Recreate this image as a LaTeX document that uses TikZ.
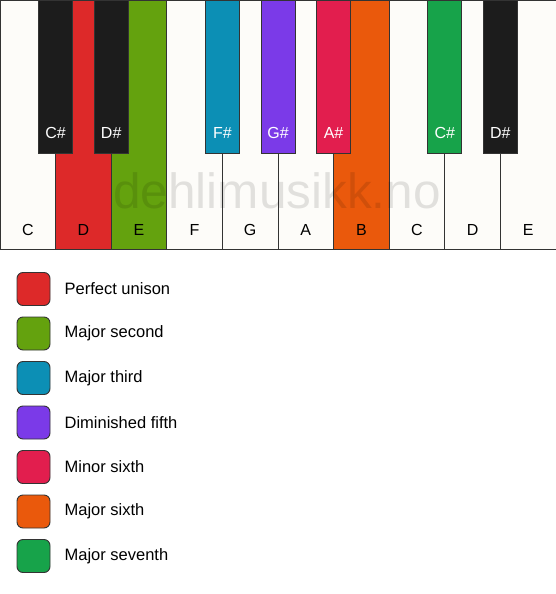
\documentclass[tikz,border=0pt]{standalone}
\usepackage{fontspec}
\setmainfont{Liberation Sans}
\usetikzlibrary{positioning}
\definecolor{ivory}{RGB}{253,252,249}
\definecolor{keyblack}{RGB}{28,28,28}
\definecolor{keyline}{RGB}{51,51,51}
\definecolor{unison}{RGB}{221,41,41}
\definecolor{second}{RGB}{100,162,14}
\definecolor{third}{RGB}{12,143,181}
\definecolor{fifth}{RGB}{123,58,232}
\definecolor{minsixth}{RGB}{226,30,78}
\definecolor{majsixth}{RGB}{234,89,12}
\definecolor{seventh}{RGB}{23,163,74}

\begin{document}
\begin{tikzpicture}[x=1pt, y=1pt,
  whitekey/.style={rectangle, draw=keyline, fill=ivory, line width=0.9pt, inner sep=0pt, minimum width=55.6pt, minimum height=249pt},
  blackkey/.style={rectangle, draw=keyline, fill=keyblack, line width=0.9pt, inner sep=0pt, minimum width=34pt, minimum height=153pt},
  whitelabel/.style={anchor=center, yshift=19pt, font=\fontsize{16}{19}\selectfont, text=black},
  blacklabel/.style={anchor=center, yshift=20pt, font=\fontsize{16}{19}\selectfont, text=white},
  swatch/.style={rectangle, draw=keyline, line width=0.9pt, rounded corners=6pt, minimum size=33pt, inner sep=0pt},
  legtext/.style={font=\fontsize{16.5}{19}\selectfont, inner sep=0pt},
  node distance=14pt
]
\useasboundingbox (0,0) rectangle (556,-594);

% --- weisse Tasten ---
\node[whitekey, label={[whitelabel]south:C}] (C1) at (27.8,-124.5) {};
\node[whitekey, fill=unison, label={[whitelabel]south:D}] (D1) at (83.4,-124.5) {};
\node[whitekey, fill=second, label={[whitelabel]south:E}] (E1) at (139,-124.5) {};
\node[whitekey, label={[whitelabel]south:F}] (F1) at (194.6,-124.5) {};
\node[whitekey, label={[whitelabel]south:G}] (G1) at (250.2,-124.5) {};
\node[whitekey, label={[whitelabel]south:A}] (A1) at (305.8,-124.5) {};
\node[whitekey, fill=majsixth, label={[whitelabel]south:B}] (B1) at (361.4,-124.5) {};
\node[whitekey, label={[whitelabel]south:C}] (C2) at (417,-124.5) {};
\node[whitekey, label={[whitelabel]south:D}] (D2) at (472.6,-124.5) {};
\node[whitekey, label={[whitelabel]south:E}] (E2) at (528.2,-124.5) {};

% Wasserzeichen
\node[font=\fontsize{49.5}{52}\selectfont, text=black, text opacity=0.11] (mark) at (277,-191) {dehlimusikk.no};

% --- schwarze Tasten ---
\node[blackkey, label={[blacklabel]south:C\#}] (Cs1) at (55.6,-76.5) {};
\node[blackkey, label={[blacklabel]south:D\#}] (Ds1) at (111.2,-76.5) {};
\node[blackkey, fill=third, label={[blacklabel]south:F\#}] (Fs1) at (222.4,-76.5) {};
\node[blackkey, fill=fifth, label={[blacklabel]south:G\#}] (Gs1) at (278,-76.5) {};
\node[blackkey, fill=minsixth, label={[blacklabel]south:A\#}] (As1) at (333.6,-76.5) {};
\node[blackkey, fill=seventh, label={[blacklabel]south:C\#}] (Cs2) at (444.8,-76.5) {};
\node[blackkey, label={[blacklabel]south:D\#}] (Ds2) at (500.4,-76.5) {};

% --- Legende ---
\node[swatch, fill=unison] (sunison) at (33.5,-289) {};
\node[swatch, fill=second, below=10.6pt of sunison] (ssecond) {};
\node[swatch, fill=third, below=10.6pt of ssecond] (sthird) {};
\node[swatch, fill=fifth, below=10.6pt of sthird] (sfifth) {};
\node[swatch, fill=minsixth, below=10.6pt of sfifth] (sminsixth) {};
\node[swatch, fill=majsixth, below=10.6pt of sminsixth] (smajsixth) {};
\node[swatch, fill=seventh, below=10.6pt of smajsixth] (sseventh) {};

\node[legtext, right=of sunison] (tunison) {Perfect unison};
\node[legtext, right=of ssecond] (tsecond) {Major second};
\node[legtext, right=of sthird] (tthird) {Major third};
\node[legtext, right=of sfifth] (tfifth) {Diminished fifth};
\node[legtext, right=of sminsixth] (tminsixth) {Minor sixth};
\node[legtext, right=of smajsixth] (tmajsixth) {Major sixth};
\node[legtext, right=of sseventh] (tseventh) {Major seventh};
\end{tikzpicture}
\end{document}
